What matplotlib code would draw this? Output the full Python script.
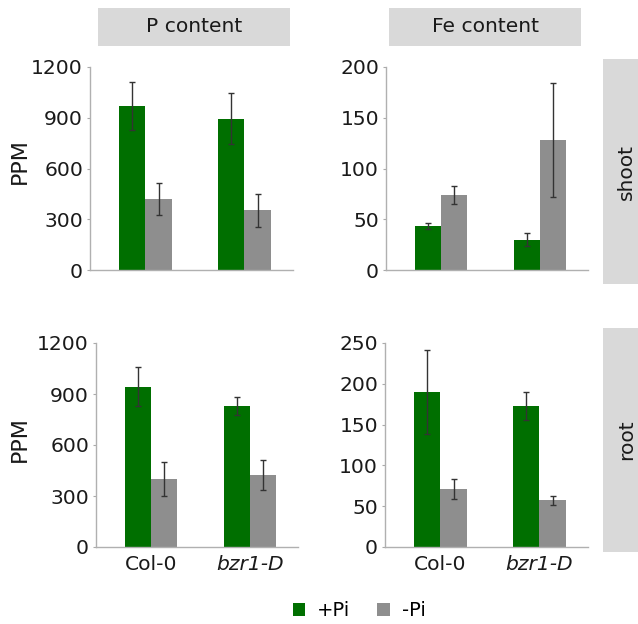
import matplotlib.pyplot as plt
from matplotlib.patches import Rectangle, Patch

# data
genotypes = ["Col-0", "bzr1-D"]
p_shoot_plus = [970, 895]
p_shoot_plus_err = [143, 150]
p_shoot_minus = [420, 352]
p_shoot_minus_err = [92, 95]
fe_shoot_plus = [43, 30]
fe_shoot_plus_err = [3, 6]
fe_shoot_minus = [74, 128]
fe_shoot_minus_err = [9, 56]
p_root_plus = [943, 829]
p_root_plus_err = [113, 55]
p_root_minus = [398, 421]
p_root_minus_err = [100, 88]
fe_root_plus = [190, 173]
fe_root_plus_err = [51, 17]
fe_root_minus = [71, 57]
fe_root_minus_err = [12, 5]

green = "#006f00"
grey = "#8e8e8e"
stripcol = "#d9d9d9"
FS = 14.6

W, H = 638, 624
fig = plt.figure(figsize=(W / 100, H / 100), dpi=100)
plt.rcParams['font.family'] = ['DejaVu Sans']


def px_axes(x0, y0, x1, y1):
    return fig.add_axes([x0 / W, 1 - y1 / H, (x1 - x0) / W, (y1 - y0) / H])


def panel(ax, plus, plus_err, minus, minus_err, ymax, step, xlabels):
    xs = [1, 2]
    w = 0.265
    ax.bar([x - w / 2 for x in xs], plus, w, color=green, zorder=2)
    ax.bar([x + w / 2 for x in xs], minus, w, color=grey, zorder=2)
    ax.errorbar([x - w / 2 for x in xs], plus, yerr=plus_err, fmt='none',
                ecolor='#333333', elinewidth=1, capsize=2.5, capthick=1, zorder=3)
    ax.errorbar([x + w / 2 for x in xs], minus, yerr=minus_err, fmt='none',
                ecolor='#333333', elinewidth=1, capsize=2.5, capthick=1, zorder=3)
    ax.set_xlim(0.44, 2.49)
    ax.set_ylim(0, ymax)
    ax.set_yticks(range(0, ymax + 1, step))
    ax.set_xticks(xs)
    if xlabels:
        ax.set_xticklabels(genotypes, fontsize=FS, color='#1a1a1a')
        ax.get_xticklabels()[1].set_style('italic')
    else:
        ax.set_xticklabels([])
    ax.tick_params(axis='x', length=0, pad=6)
    ax.tick_params(axis='y', length=2, color='#aaaaaa', labelsize=FS,
                   labelcolor='#1a1a1a', pad=3)
    for s in ['top', 'right']:
        ax.spines[s].set_visible(False)
    for s in ['left', 'bottom']:
        ax.spines[s].set_color('#b0b0b0')
        ax.spines[s].set_linewidth(1)


ax1 = px_axes(90, 67, 293, 270)
panel(ax1, p_shoot_plus, p_shoot_plus_err, p_shoot_minus, p_shoot_minus_err, 1200, 300, False)
ax2 = px_axes(386, 67, 588, 270)
panel(ax2, fe_shoot_plus, fe_shoot_plus_err, fe_shoot_minus, fe_shoot_minus_err, 200, 50, False)
ax3 = px_axes(96, 343, 298, 547)
panel(ax3, p_root_plus, p_root_plus_err, p_root_minus, p_root_minus_err, 1200, 300, True)
ax4 = px_axes(385, 343, 588, 547)
panel(ax4, fe_root_plus, fe_root_plus_err, fe_root_minus, fe_root_minus_err, 250, 50, True)

# y labels placed by hand so they stay inside the figure
fig.text(19.5 / W, 1 - 161 / H, "PPM", rotation=90, ha='center', va='center',
         fontsize=16, color='#1a1a1a')
fig.text(19.5 / W, 1 - 439 / H, "PPM", rotation=90, ha='center', va='center',
         fontsize=16, color='#1a1a1a')


# facet strips
def strip(x0, y0, x1, y1, label, rot):
    fig.patches.append(Rectangle((x0 / W, 1 - y1 / H), (x1 - x0) / W, (y1 - y0) / H,
                                 transform=fig.transFigure, facecolor=stripcol,
                                 edgecolor='none'))
    fig.text((x0 + x1) / 2 / W, 1 - (y0 + y1) / 2 / H, label, rotation=rot,
             ha='center', va='center', fontsize=FS, color='#1a1a1a')


strip(98, 8, 290, 46, "P content", 0)
strip(389, 8, 581, 46, "Fe content", 0)
strip(603, 59, 650, 284, "shoot", 90)
strip(603, 328, 650, 552, "root", 90)

handles = [Patch(facecolor=green, label="+Pi"), Patch(facecolor=grey, label="-Pi")]
fig.legend(handles=handles, loc='center', bbox_to_anchor=(359 / W, 1 - 611 / H),
           ncol=2, frameon=False, fontsize=14, handlelength=0.65, handleheight=0.65,
           handletextpad=0.6, columnspacing=1.4)

fig.savefig("out.png", dpi=100)
